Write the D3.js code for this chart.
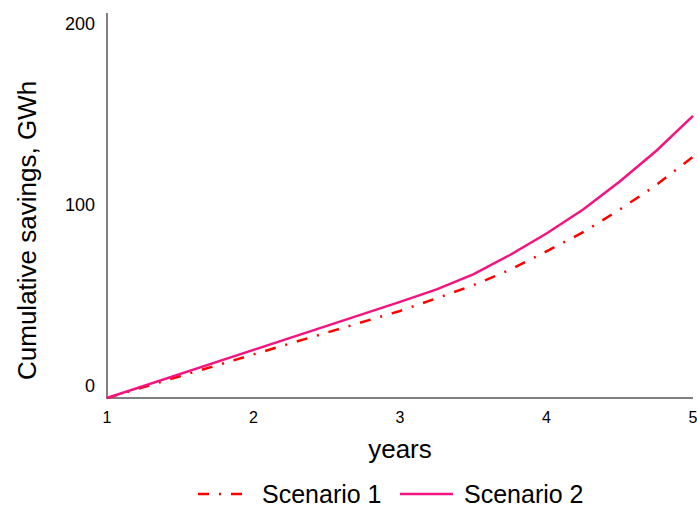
<!DOCTYPE html>
<html><head><meta charset="utf-8">
<script src="https://cdn.jsdelivr.net/npm/d3@7"></script>
<style>body{margin:0;background:#fff}svg{display:block}text{font-family:"Liberation Sans",Arial,sans-serif;fill:#000}</style>
</head><body>
<svg id="c" width="697" height="507"></svg>
<script>
const years = [1, 2, 3, 3.25, 3.5, 3.75, 4, 4.25, 4.5, 4.75, 5];
const scenario1 = [0, 24.1, 48.1, 55.1, 62.3, 70.8, 81, 91.6, 104.1, 117.7, 133.3];
const scenario2 = [0, 26.6, 53.1, 60, 68.3, 79, 90.9, 104.1, 119.6, 136.6, 155.9];
const xTicks = [1, 2, 3, 4, 5];
const yTicks = [0, 100, 200];
const seriesNames = ["Scenario 1", "Scenario 2"];

const svg = d3.select("#c");
const x = d3.scaleLinear().domain([1, 5]).range([107, 693]);
const y = d3.scaleLinear().domain([0, 100]).range([398, 217]);
const yTop = 13;

svg.append("line").attr("x1", 107).attr("x2", 107).attr("y1", yTop).attr("y2", 399)
  .attr("stroke", "#808080").attr("stroke-width", 2);
svg.append("line").attr("x1", 106).attr("x2", 693).attr("y1", 398).attr("y2", 398)
  .attr("stroke", "#808080").attr("stroke-width", 2);

svg.selectAll(".xt").data(xTicks).enter().append("text")
  .attr("x", d => x(d)).attr("y", 423).attr("text-anchor", "middle")
  .attr("font-size", 16).text(d => d);
svg.selectAll(".yt").data(yTicks).enter().append("text")
  .attr("x", 95).attr("y", d => y(d) - 6).attr("text-anchor", "end")
  .attr("font-size", 18).text(d => d);

svg.append("text").attr("x", 400).attr("y", 458).attr("text-anchor", "middle")
  .attr("font-size", 26).text("years");
svg.append("text").attr("transform", "translate(36,380) rotate(-90)")
  .attr("text-anchor", "start").attr("font-size", 26).text("Cumulative savings, GWh");

const line = d3.line().x(d => x(d[0])).y(d => y(d[1]));
const s1 = years.map((t, i) => [t, scenario1[i]]);
const s2 = years.map((t, i) => [t, scenario2[i]]);
const colors = ["#ff0000", "#f5147f"];
const dashes = ["11,10,2,10", null];

svg.append("path").datum(s1).attr("d", line).attr("fill", "none")
  .attr("stroke", colors[0]).attr("stroke-width", 2.5).attr("stroke-dasharray", dashes[0]);
svg.append("path").datum(s2).attr("d", line).attr("fill", "none")
  .attr("stroke", colors[1]).attr("stroke-width", 2.5);

const lg = [{x1: 198, x2: 245, tx: 262}, {x1: 400, x2: 453, tx: 464}];
lg.forEach((l, i) => {
  svg.append("line").attr("x1", l.x1).attr("x2", l.x2).attr("y1", 494).attr("y2", 494)
    .attr("stroke", colors[i]).attr("stroke-width", 2.5)
    .attr("stroke-dasharray", dashes[i]);
  svg.append("text").attr("x", l.tx).attr("y", 503).attr("font-size", 25).text(seriesNames[i]);
});
</script>
</body></html>
